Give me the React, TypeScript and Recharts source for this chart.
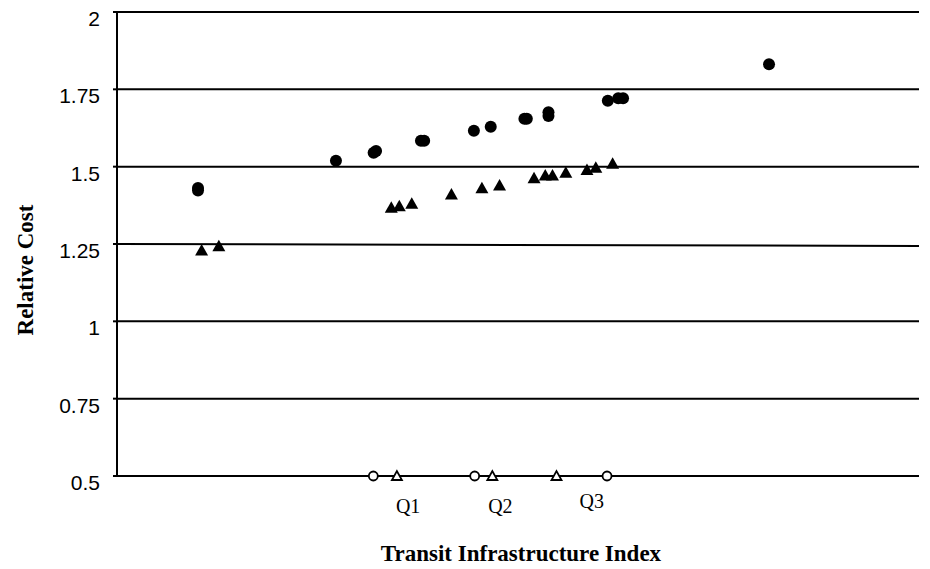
import React from 'react';
import { ScatterChart, Scatter, XAxis, YAxis, CartesianGrid, ReferenceLine } from 'recharts';

// cost index, circle series (x on a 0-100 index scale)
const circleX = [10.1, 10.1, 27.3, 32.0, 32.3, 37.9, 38.3, 44.5, 46.6, 50.8, 51.1, 53.8, 53.8, 61.2, 62.5, 63.1, 81.3];
const circleY = [1.423, 1.431, 1.519, 1.545, 1.551, 1.584, 1.584, 1.616, 1.629, 1.655, 1.655, 1.664, 1.676, 1.713, 1.721, 1.721, 1.831];

// cost index, triangle series
const triX = [10.55, 12.7, 34.2, 35.2, 36.75, 41.7, 45.5, 47.7, 52.0, 53.4, 54.3, 55.96, 58.6, 59.7, 61.8];
const triY = [1.231, 1.244, 1.369, 1.374, 1.382, 1.412, 1.432, 1.441, 1.464, 1.473, 1.473, 1.482, 1.491, 1.498, 1.511];

// quartile markers on the baseline
const quartCircleX = [31.96, 44.6, 61.1];
const quartTriX = [34.9, 46.8, 54.8];
const quartBase = 0.5;

const qTickX = [36.3, 47.8, 59.2];
const qTickLabels = ['Q1', 'Q2', 'Q3'];

const yTicks = [0.5, 0.75, 1, 1.25, 1.5, 1.75, 2];
const gridValues = [0.5, 0.75, 1, 1.5, 1.75, 2];

const circles = circleX.map((x, i) => ({ x, y: circleY[i] }));
const triangles = triX.map((x, i) => ({ x, y: triY[i] }));
const quartCircles = quartCircleX.map((x) => ({ x, y: quartBase }));
const quartTris = quartTriX.map((x) => ({ x, y: quartBase }));

const SANS = '"Liberation Sans", Arial, sans-serif';
const SERIF = '"Liberation Serif", "Times New Roman", serif';

const FilledCircle = (p: any) => <circle cx={p.cx} cy={p.cy} r={6} fill="#000" />;
const FilledTri = (p: any) => (
  <polygon points={`${p.cx - 6.5},${p.cy + 5.5} ${p.cx + 6.5},${p.cy + 5.5} ${p.cx},${p.cy - 6}`} fill="#000" />
);
const OpenCircle = (p: any) => (
  <circle cx={p.cx} cy={p.cy} r={4.5} fill="#fff" stroke="#000" strokeWidth={1.8} />
);
const OpenTri = (p: any) => (
  <polygon
    points={`${p.cx - 5},${p.cy + 4} ${p.cx + 5},${p.cy + 4} ${p.cx},${p.cy - 5}`}
    fill="#fff"
    stroke="#000"
    strokeWidth={1.8}
  />
);

// tick labels sit a little below their gridline in the source
const YTick = (p: any) => (
  <text x={p.x} y={p.y + 14} textAnchor="end" fontFamily={SANS} fontSize={21} fill="#000">
    {p.payload.value}
  </text>
);

const QTick = (p: any) => {
  const i = qTickX.indexOf(p.payload.value);
  const lift = i === 2 ? -5 : 0; // Q3 sits a bit higher in the source
  return (
    <text x={p.x} y={p.y + 37 + lift} textAnchor="middle" fontFamily={SERIF} fontSize={20} fill="#000">
      {qTickLabels[i]}
    </text>
  );
};

export default function App() {
  return (
    <div style={{ position: 'absolute', left: 0, top: 0, width: 930, height: 569, background: '#fff' }}>
      <ScatterChart width={930} height={569} margin={{ top: 12, right: 11, left: 0, bottom: 63 }}>
        <CartesianGrid vertical={false} horizontalValues={gridValues} stroke="#000" strokeWidth={2} />
        <ReferenceLine
          segment={[{ x: 0, y: 1.25 }, { x: 100, y: 1.2435 }]}
          stroke="#000"
          strokeWidth={2}
          ifOverflow="extendDomain"
        />
        <XAxis
          type="number"
          dataKey="x"
          domain={[0, 100]}
          ticks={qTickX}
          axisLine={false}
          tickLine={false}
          tickSize={0}
          tickMargin={0}
          height={30}
          tick={<QTick />}
          interval={0}
        />
        <YAxis
          type="number"
          dataKey="y"
          domain={[0.5, 2]}
          ticks={yTicks}
          width={117}
          axisLine={{ stroke: '#000', strokeWidth: 2 }}
          tickLine={{ stroke: '#000', strokeWidth: 2 }}
          tickSize={4}
          tickMargin={13}
          tick={<YTick />}
          interval={0}
        />
        <Scatter data={circles} shape={<FilledCircle />} isAnimationActive={false} />
        <Scatter data={triangles} shape={<FilledTri />} isAnimationActive={false} />
        <Scatter data={quartCircles} shape={<OpenCircle />} isAnimationActive={false} />
        <Scatter data={quartTris} shape={<OpenTri />} isAnimationActive={false} />
      </ScatterChart>
      <svg width={930} height={569} style={{ position: 'absolute', left: 0, top: 0, pointerEvents: 'none' }}>
        <text
          x={521}
          y={561}
          textAnchor="middle"
          fontFamily={SERIF}
          fontWeight="bold"
          fontSize={23}
          fill="#000"
        >
          Transit Infrastructure Index
        </text>
        <text
          transform="translate(33,270) rotate(-90)"
          textAnchor="middle"
          fontFamily={SERIF}
          fontWeight="bold"
          fontSize={23}
          fill="#000"
        >
          Relative Cost
        </text>
      </svg>
    </div>
  );
}
